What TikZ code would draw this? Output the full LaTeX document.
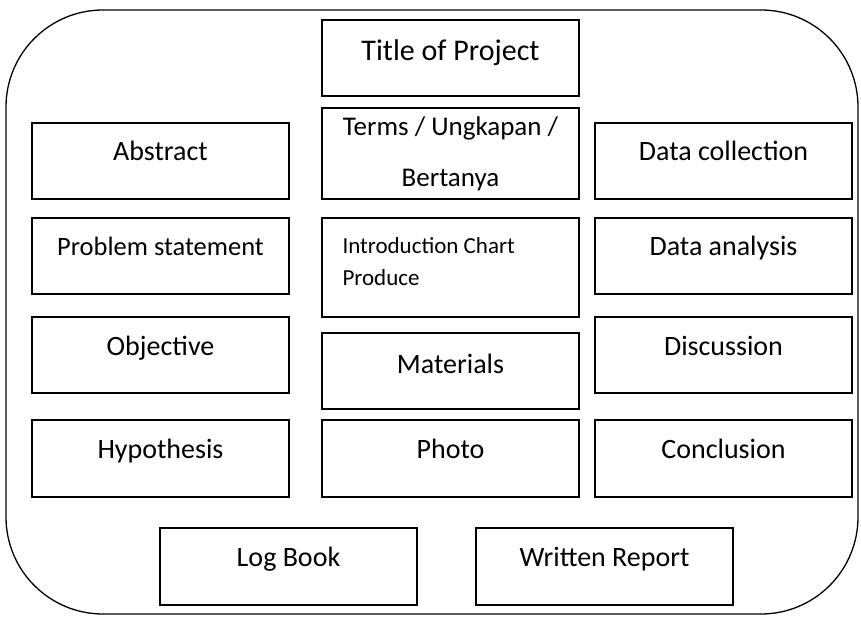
\documentclass[tikz,border=0pt]{standalone}
\usepackage{fontspec}
\setmainfont{Carlito}
\usetikzlibrary{positioning}

\begin{document}
\begin{tikzpicture}[x=1pt,y=-1pt,
  block/.style={
    rectangle,
    draw=black,
    line width=2pt,
    inner sep=0pt,
    anchor=north west,
    minimum width=257pt,
    minimum height=76pt,
    align=center,
    font=\fontsize{28}{34}\selectfont,
    text height=20pt, % baseline sits in the middle of the box
    text depth=20pt
  },
  small/.style={font=\fontsize{26.5}{30}\selectfont},
  frame/.style={line width=1.3pt, rounded corners=97pt}
]
\useasboundingbox (0,0) rectangle (861,617);

% outer frame with wide rounded corners
\draw[frame] (6,10) rectangle (858,614);

% top
\node (title) [block, font=\fontsize{30}{36}\selectfont, text height=22pt, text depth=16pt] at (321,19) {Title of Project};

% first row
\node (abstract) [block] at (31,122) {Abstract};
\node (terms)    [block, minimum height=91pt, font=\fontsize{27}{51}\selectfont,
                  text height=70pt, text depth=3pt] at (321,107) {Terms / Ungkapan /\\Bertanya};
\node (collect)  [block] at (594,122) {Data collection};

% second row
\node (problem)  [block, small] at (31,217) {Problem statement};
\node (intro)    [block, minimum height=99pt, text width=216pt, align=flush left,
                  font=\fontsize{23}{32}\selectfont, text height=18pt, text depth=45pt] at (321,217) {Introduction Chart\\Produce};
\node (analysis) [block] at (594,217) {Data analysis};

% third row
\node (objective)  [block] at (31,316) {Objective};
\node (materials)  [block, text height=22pt, text depth=18pt] at (321,332) {Materials};
\node (discussion) [block] at (594,316) {Discussion};

% fourth row
\node (hypothesis) [block, minimum height=77pt] at (31,419) {Hypothesis};
\node (photo)      [block, minimum height=77pt] at (321,419) {Photo};
\node (conclusion) [block, minimum height=77pt] at (594,419) {Conclusion};

% bottom
\node (logbook) [block, minimum height=77pt] at (159,527) {Log Book};
\node (report)  [block, minimum height=77pt] at (475,527) {Written Report};
\end{tikzpicture}
\end{document}
